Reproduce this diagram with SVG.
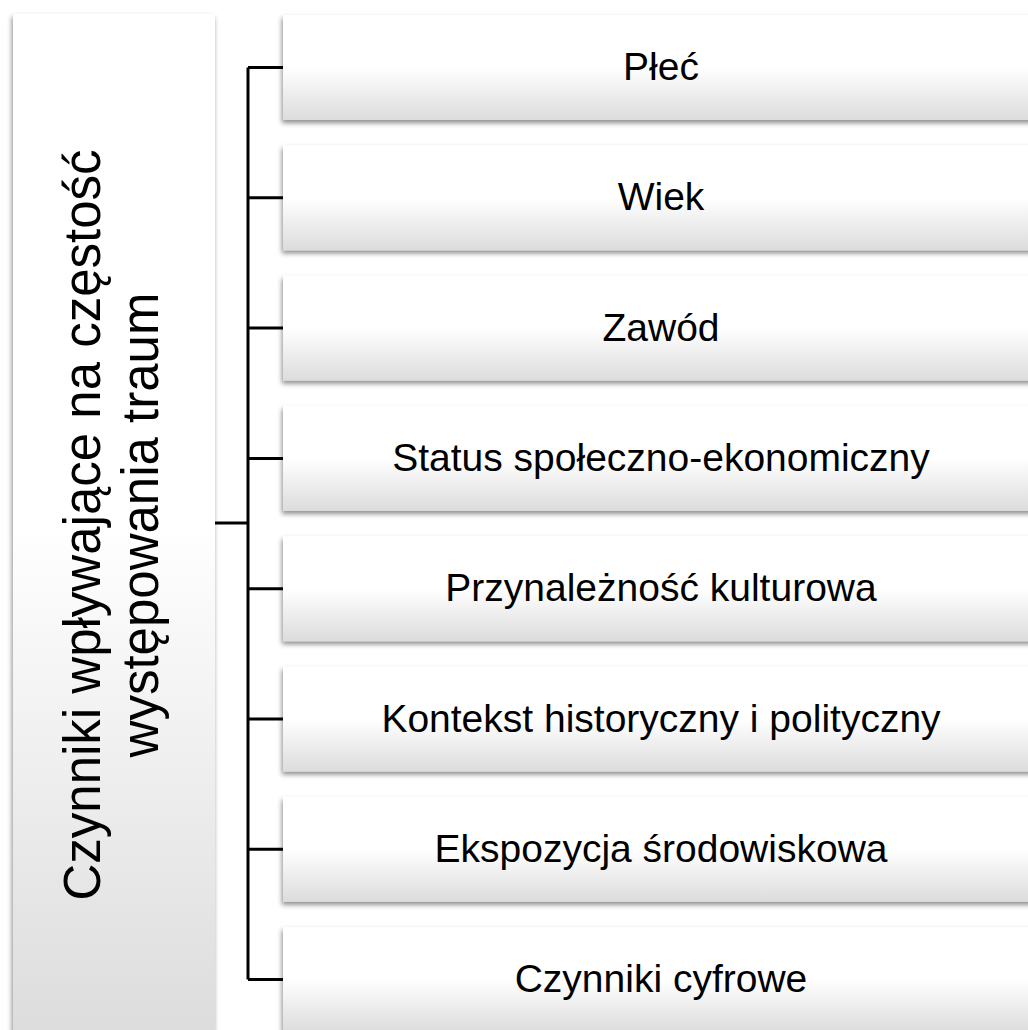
<svg xmlns="http://www.w3.org/2000/svg" width="1028" height="1030" viewBox="0 0 1028 1030">
<style>
.box{fill:url(#g);filter:url(#sh);}
.lbl{font-family:"Liberation Sans",Arial,sans-serif;font-size:39px;fill:#000;text-anchor:middle;}
.ttl{font-family:"Liberation Sans",Arial,sans-serif;font-size:51px;fill:#000;text-anchor:middle;}
.con{stroke:#000;stroke-width:3;fill:none;}
</style>
<defs>
<linearGradient id="g" x1="0" y1="0" x2="0" y2="1">
<stop offset="0" stop-color="#ffffff"/>
<stop offset="0.5" stop-color="#ffffff"/>
<stop offset="1" stop-color="#dcdcdc"/>
</linearGradient>
<filter id="sh" x="-10%" y="-10%" width="120%" height="130%">
<feDropShadow dx="-1" dy="3" stdDeviation="2.5" flood-color="#000" flood-opacity="0.45"/>
</filter>
</defs>
<rect width="1028" height="1030" fill="#fff"/>
<g id="connectors">
<path class="con" d="M215 523H248M248 67.5V979.6M248 67.5H283M248 197.8H283M248 328.1H283M248 458.4H283M248 588.7H283M248 719H283M248 849.3H283M248 979.6H283"/>
</g>
<g id="root">
<rect class="box" x="13" y="14" width="202" height="1024"/>
<text class="ttl" transform="translate(100,525) rotate(-90)">Czynniki wpływające na częstość</text>
<text class="ttl" transform="translate(158,525) rotate(-90)">występowania traum</text>
</g>
<g id="n1"><rect class="box" x="283" y="15" width="756" height="105"/><text class="lbl" x="661" y="80">Płeć</text></g>
<g id="n2"><rect class="box" x="283" y="145.3" width="756" height="105"/><text class="lbl" x="661" y="210.3">Wiek</text></g>
<g id="n3"><rect class="box" x="283" y="275.6" width="756" height="105"/><text class="lbl" x="661" y="340.6">Zawód</text></g>
<g id="n4"><rect class="box" x="283" y="405.9" width="756" height="105"/><text class="lbl" x="661" y="470.9">Status społeczno-ekonomiczny</text></g>
<g id="n5"><rect class="box" x="283" y="536.2" width="756" height="105"/><text class="lbl" x="661" y="601.2">Przynależność kulturowa</text></g>
<g id="n6"><rect class="box" x="283" y="666.5" width="756" height="105"/><text class="lbl" x="661" y="731.5">Kontekst historyczny i polityczny</text></g>
<g id="n7"><rect class="box" x="283" y="796.8" width="756" height="105"/><text class="lbl" x="661" y="861.8">Ekspozycja środowiskowa</text></g>
<g id="n8"><rect class="box" x="283" y="927.1" width="756" height="105"/><text class="lbl" x="661" y="992.1">Czynniki cyfrowe</text></g>
</svg>
